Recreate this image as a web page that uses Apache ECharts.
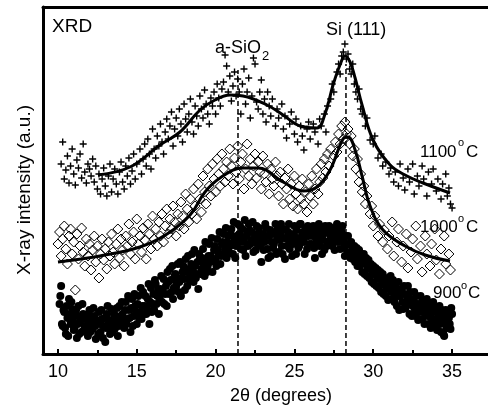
<!DOCTYPE html>
<html>
<head>
<meta charset="utf-8">
<script src="https://cdn.jsdelivr.net/npm/echarts@6.0.0/dist/echarts.min.js"></script>
<style>
  html, body { margin: 0; padding: 0; background: #fff; }
  #main { width: 488px; height: 412px; }
</style>
</head>
<body>
<div id="main"></div>
<script>
// 2theta (deg) vs intensity (a.u., arbitrary offset scale)
var majorTicks = [10, 15, 20, 25, 30, 35];
var minorTicks = [12.5, 17.5, 22.5, 27.5, 32.5];

// 1100 C raw points (crosses)
var data1100 = [
  [10.2,190],[10.3,212],[10.4,175],[10.5,184],[10.6,198],[10.7,171],[10.8,188],[10.9,205],[11.0,180],[11.1,169],
  [11.2,194],[11.3,186],[11.4,200],[11.5,176],[11.6,210],[11.7,182],[11.8,171],[11.9,190],[12.0,185],[12.1,178],
  [12.2,195],[12.3,172],[12.4,188],[12.5,165],[12.6,180],[12.7,160],[12.8,175],[12.9,186],[13.0,168],[13.1,158],
  [13.2,178],[13.3,190],[13.4,162],[13.5,175],[13.6,185],[13.7,170],[13.8,160],[13.9,182],[14.0,192],[14.1,172],
  [14.2,165],[14.3,188],[14.4,178],[14.5,196],[14.6,170],[14.7,183],[14.8,200],[14.9,175],[15.0,190],[15.2,205],
  [15.3,180],[15.4,195],[15.5,210],[15.6,188],[15.7,215],[15.8,200],[15.9,185],[16.0,225],[16.1,205],[16.2,196],
  [16.3,218],[16.4,208],[16.5,230],[16.6,212],[16.7,200],[16.8,222],[16.9,235],[17.0,215],[17.1,228],[17.2,242],
  [17.3,208],[17.4,225],[17.5,236],[17.6,218],[17.7,245],[17.8,230],[17.9,212],[18.0,250],[18.1,235],[18.2,222],
  [18.3,240],[18.4,255],[18.5,232],[18.6,220],[18.7,248],[18.8,238],[18.9,228],[19.0,258],[19.1,245],[19.2,236],
  [19.3,264],[19.4,250],[19.5,240],[19.6,230],[19.7,256],[19.8,248],[19.9,262],[20.0,240],[20.1,270],[20.2,256],
  [20.3,248],[20.4,265],[20.5,272],[20.6,299],[20.7,288],[20.8,262],[20.9,278],[21.0,253],[21.1,268],[21.2,282],
  [21.3,258],[21.4,275],[21.5,262],[21.6,240],[21.7,270],[21.8,285],[21.9,250],[22.0,262],[22.1,276],[22.2,236],
  [22.3,258],[22.4,296],[22.5,290],[22.6,252],[22.7,245],[22.8,262],[22.9,274],[23.0,240],[23.1,255],[23.2,232],
  [23.3,262],[23.4,248],[23.5,238],[23.6,255],[23.8,228],[23.9,245],[24.0,236],[24.2,250],[24.3,225],[24.4,238],
  [24.5,216],[24.7,230],[24.8,242],[25.0,220],[25.1,235],[25.2,212],[25.4,228],[25.5,218],[25.6,204],[25.8,225],
  [25.9,232],[26.0,215],[26.2,230],[26.3,222],[26.5,210],[26.6,235],[26.7,228],[26.9,240],[27.0,222],[27.1,248],
  [27.3,255],[27.4,270],[27.5,262],[27.7,282],[27.8,290],[27.9,280],[28.0,298],[28.1,302],[28.2,310],[28.3,295],
  [28.4,300],[28.5,285],[28.6,280],[28.7,290],[28.8,270],[28.9,262],[29.0,255],[29.1,265],[29.2,245],[29.3,240],
  [29.5,228],[29.6,236],[29.8,214],[30.0,210],[30.1,218],[30.3,196],[30.5,200],[30.6,188],[30.8,192],[31.0,180],
  [31.1,186],[31.3,172],[31.4,182],[31.6,168],[31.7,190],[31.9,176],[32.0,164],[32.2,185],[32.3,172],[32.5,190],
  [32.6,160],[32.8,178],[32.9,168],[33.1,188],[33.2,175],[33.4,158],[33.5,182],[33.7,170],[33.8,185],[34.0,163],
  [34.1,175],[34.3,155],[34.4,170],[34.6,180],[34.7,158],[34.8,166],[34.9,150],[35.0,146]
];

// 1000 C raw points (open diamonds)
var data1000 = [
  [10.0,110],[10.1,122],[10.2,98],[10.3,115],[10.4,128],[10.5,105],[10.6,90],[10.7,118],[10.8,125],[10.9,100],
  [11.0,112],[11.1,64],[11.2,120],[11.3,95],[11.4,108],[11.5,126],[11.6,102],[11.7,88],[11.8,115],[11.9,98],
  [12.0,110],[12.1,84],[12.2,104],[12.3,118],[12.4,92],[12.5,108],[12.6,76],[12.7,100],[12.8,115],[12.9,94],
  [13.0,105],[13.1,85],[13.2,112],[13.3,98],[13.4,120],[13.5,102],[13.6,90],[13.7,110],[13.8,125],[13.9,96],
  [14.0,115],[14.1,104],[14.2,88],[14.3,118],[14.4,108],[14.5,130],[14.6,100],[14.7,112],[14.8,122],[14.9,95],
  [15.0,135],[15.1,110],[15.2,118],[15.3,102],[15.4,126],[15.5,114],[15.6,95],[15.7,130],[15.8,120],[15.9,105],
  [16.0,138],[16.1,115],[16.2,125],[16.3,108],[16.4,132],[16.5,118],[16.6,140],[16.7,112],[16.8,128],[16.9,145],
  [17.0,120],[17.1,135],[17.2,125],[17.3,148],[17.4,132],[17.5,118],[17.6,140],[17.7,128],[17.8,152],[17.9,138],
  [18.0,125],[18.1,160],[18.2,145],[18.3,132],[18.4,155],[18.5,140],[18.6,165],[18.7,148],[18.8,135],[18.9,170],
  [19.0,155],[19.1,142],[19.2,178],[19.3,162],[19.4,150],[19.5,185],[19.6,168],[19.7,158],[19.8,190],[19.9,175],
  [20.0,162],[20.1,195],[20.2,180],[20.3,168],[20.4,200],[20.5,185],[20.6,172],[20.7,192],[20.8,178],[20.9,205],
  [21.0,188],[21.1,170],[21.2,196],[21.3,182],[21.4,208],[21.5,175],[21.6,192],[21.7,200],[21.8,165],[21.9,185],
  [22.0,210],[22.1,178],[22.2,195],[22.3,170],[22.4,188],[22.5,200],[22.6,176],[22.7,192],[22.8,182],[22.9,165],
  [23.0,198],[23.1,180],[23.2,172],[23.3,190],[23.4,160],[23.5,185],[23.6,175],[23.7,168],[23.8,192],[23.9,178],
  [24.0,158],[24.1,182],[24.2,170],[24.3,150],[24.4,176],[24.5,165],[24.6,185],[24.7,155],[24.8,170],[24.9,148],
  [25.0,178],[25.1,160],[25.2,145],[25.3,168],[25.4,155],[25.5,175],[25.6,150],[25.7,162],[25.8,142],[25.9,170],
  [26.0,158],[26.1,178],[26.2,150],[26.3,165],[26.4,185],[26.5,160],[26.6,172],[26.7,190],[26.8,176],[26.9,195],
  [27.0,182],[27.1,200],[27.2,188],[27.3,205],[27.5,198],[27.6,212],[27.7,202],[27.8,220],[27.9,210],[28.0,228],
  [28.1,215],[28.2,232],[28.3,220],[28.4,225],[28.5,210],[28.6,218],[28.7,198],[28.8,205],[28.9,185],[29.0,195],
  [29.1,172],[29.2,180],[29.3,162],[29.4,168],[29.5,150],[29.6,158],[29.8,140],[29.9,148],[30.0,128],[30.1,138],
  [30.3,118],[30.4,130],[30.6,112],[30.7,124],[30.9,105],[31.0,118],[31.2,132],[31.3,98],[31.5,112],[31.6,125],
  [31.8,92],[31.9,108],[32.1,120],[32.2,86],[32.4,102],[32.5,115],[32.7,128],[32.8,95],[33.0,108],[33.1,82],
  [33.3,118],[33.4,100],[33.6,88],[33.7,110],[33.9,125],[34.0,94],[34.2,80],[34.3,105],[34.5,118],[34.6,90],
  [34.8,100],[34.9,84]
];

// 900 C raw points (filled circles)
var data900 = [
  [10.1,50],[10.2,68],[10.3,28],[10.4,42],[10.5,20],[10.6,36],[10.7,55],[10.8,30],[10.9,45],[11.0,24],
  [11.1,38],[11.2,16],[11.3,48],[11.4,32],[11.5,22],[11.6,40],[11.7,28],[11.8,35],[11.9,18],[12.0,44],
  [12.1,30],[12.2,25],[12.3,38],[12.4,15],[12.5,32],[12.6,42],[12.7,22],[12.8,35],[12.9,28],[13.0,12],
  [13.1,40],[13.2,30],[13.3,20],[13.4,45],[13.5,33],[13.6,25],[13.7,38],[13.8,18],[13.9,48],[14.0,30],
  [14.1,40],[14.2,26],[14.3,52],[14.4,35],[14.5,44],[14.6,22],[14.7,55],[14.8,38],[14.9,48],[15.0,30],
  [15.1,58],[15.2,42],[15.3,35],[15.4,62],[15.5,48],[15.6,40],[15.7,55],[15.8,30],[15.9,66],[16.0,50],
  [16.1,44],[16.2,70],[16.3,58],[16.4,40],[16.5,65],[16.6,52],[16.7,75],[16.8,60],[16.9,48],[17.0,72],
  [17.1,85],[17.2,62],[17.3,55],[17.4,78],[17.5,68],[17.6,90],[17.7,72],[17.8,58],[17.9,82],[18.0,75],
  [18.1,95],[18.2,68],[18.3,85],[18.4,78],[18.5,100],[18.6,72],[18.7,88],[18.8,80],[18.9,65],[19.0,95],
  [19.1,85],[19.2,105],[19.3,78],[19.4,92],[19.5,88],[19.6,110],[19.7,98],[19.8,82],[19.9,104],[20.0,95],
  [20.1,115],[20.2,100],[20.3,90],[20.4,110],[20.5,120],[20.6,105],[20.7,96],[20.8,118],[20.9,108],[21.0,125],
  [21.1,100],[21.2,115],[21.3,108],[21.4,130],[21.5,120],[21.6,105],[21.7,125],[21.8,112],[21.9,98],[22.0,120],
  [22.1,130],[22.2,110],[22.3,122],[22.4,102],[22.5,118],[22.6,128],[22.7,108],[22.8,115],[22.9,92],[23.0,120],
  [23.1,112],[23.2,126],[23.3,105],[23.4,118],[23.5,98],[23.6,122],[23.7,110],[23.8,130],[23.9,115],[24.0,102],
  [24.1,120],[24.2,108],[24.3,125],[24.4,95],[24.5,115],[24.6,122],[24.7,105],[24.8,118],[24.9,110],[25.0,128],
  [25.1,100],[25.2,116],[25.3,108],[25.4,130],[25.5,120],[25.6,112],[25.7,125],[25.8,105],[25.9,118],[26.0,122],
  [26.1,110],[26.2,128],[26.3,96],[26.4,115],[26.5,120],[26.6,108],[26.7,126],[26.8,114],[26.9,104],[27.0,122],
  [27.1,112],[27.2,128],[27.3,118],[27.4,108],[27.5,124],[27.6,114],[27.7,130],[27.8,118],[27.9,105],[28.0,122],
  [28.1,112],[28.2,98],[28.3,110],[28.4,118],[28.5,102],[28.6,112],[28.7,95],[28.8,108],[28.9,100],[29.0,88],
  [29.1,104],[29.2,96],[29.3,82],[29.4,100],[29.5,90],[29.6,78],[29.7,94],[29.8,85],[29.9,72],[30.0,88],
  [30.1,80],[30.2,68],[30.3,84],[30.4,75],[30.5,62],[30.6,80],[30.7,70],[30.8,58],[30.9,74],[31.0,65],
  [31.1,78],[31.2,55],[31.3,68],[31.4,60],[31.5,48],[31.6,72],[31.7,58],[31.8,65],[31.9,45],[32.0,60],
  [32.1,52],[32.2,68],[32.3,40],[32.4,55],[32.5,48],[32.6,62],[32.7,38],[32.8,50],[32.9,42],[33.0,58],
  [33.1,35],[33.2,48],[33.3,40],[33.4,55],[33.5,30],[33.6,45],[33.7,36],[33.8,52],[33.9,28],[34.0,42],
  [34.1,34],[34.2,48],[34.3,22],[34.4,38],[34.5,18],[34.6,44],[34.7,28],[34.8,36],[34.9,25],[35.0,40],
  [10.15,58],[10.25,30],[10.35,44],[10.45,26],[10.55,48],[10.65,18],[10.75,40],[10.85,52],[10.95,34],[11.05,26],
  [11.15,44],[11.25,30],[11.35,20],[11.45,38],[11.55,50],[11.65,24],[11.75,36],[11.85,28],[11.95,40],[12.05,22],
  [12.15,36],[12.25,46],[12.35,28],[12.45,34],[12.55,20],[12.65,30],[12.75,44],[12.85,16],[12.95,36],[13.05,26],
  [13.15,48],[13.25,34],[13.35,28],[13.45,22],[13.55,40],[13.65,32],[13.75,46],[13.85,28],[13.95,36],[14.05,52],
  [14.15,32],[14.25,44],[14.35,30],[14.45,58],[14.55,36],[14.65,46],[14.75,28],[14.85,60],[14.95,42],[15.05,50],
  [15.15,36],[15.25,66],[15.35,48],[15.45,40],[15.55,58],[15.65,46],[15.75,70],[15.85,52],[15.95,42],[16.05,60],
  [16.15,74],[16.25,50],[16.35,64],[16.45,56],[16.55,78],[16.65,62],[16.75,50],[16.85,68],[16.95,82],[17.05,60],
  [17.15,74],[17.25,88],[17.35,66],[17.45,80],[17.55,72],[17.65,62],[17.75,92],[17.85,76],[17.95,88],[18.05,64],
  [18.15,82],[18.25,98],[18.35,74],[18.45,90],[18.55,84],[18.65,104],[18.75,76],[18.85,92],[18.95,100],[19.05,80],
  [19.15,96],[19.25,90],[19.35,112],[19.45,82],[19.55,98],[19.65,92],[19.75,116],[19.85,94],[19.95,108],[20.05,88],
  [20.15,104],[20.25,122],[20.35,98],[20.45,112],[20.55,100],[20.65,126],[20.75,112],[20.85,102],[20.95,120],[21.05,110],
  [21.15,132],[21.25,96],[21.35,118],[21.45,112],[21.55,128],[21.65,116],[21.75,104],[21.85,134],[21.95,118],[22.05,108],
  [22.15,124],[22.25,114],[22.35,132],[22.45,112],[22.55,104],[22.65,120],[22.75,126],[22.85,110],[22.95,118],[23.05,104],
  [23.15,130],[23.25,118],[23.35,96],[23.45,124],[23.55,112],[23.65,106],[23.75,120],[23.85,100],[23.95,126],[24.05,114],
  [24.15,130],[24.25,100],[24.35,116],[24.45,124],[24.55,108],[24.65,130],[24.75,112],[24.85,98],[24.95,120],[25.05,112],
  [25.15,124],[25.25,106],[25.35,130],[25.45,114],[25.55,122],[25.65,100],[25.75,118],[25.85,128],[25.95,110],[26.05,126],
  [26.15,118],[26.25,106],[26.35,124],[26.45,112],[26.55,130],[26.65,118],[26.75,100],[26.85,120],[26.95,128],[27.05,108],
  [27.15,122],[27.25,114],[27.35,126],[27.45,116],[27.55,104],[27.65,120],[27.75,112],[27.85,124],[27.95,114],[28.05,128],
  [28.15,106],[28.25,118],[28.35,100],[28.45,110],[28.55,96],[28.65,108],[28.75,102],[28.85,92],[28.95,106],[29.05,96],
  [29.15,88],[29.25,98],[29.35,92],[29.45,80],[29.55,96],[29.65,86],[29.75,76],[29.85,90],[29.95,80],[30.05,70],
  [30.15,86],[30.25,76],[30.35,66],[30.45,82],[30.55,70],[30.65,60],[30.75,76],[30.85,66],[30.95,54],[31.05,70],
  [31.15,62],[31.25,74],[31.35,52],[31.45,66],[31.55,58],[31.65,44],[31.75,62],[31.85,52],[31.95,68],[32.05,46],
  [32.15,58],[32.25,50],[32.35,62],[32.45,38],[32.55,54],[32.65,44],[32.75,58],[32.85,34],[32.95,50],[33.05,44],
  [33.15,54],[33.25,30],[33.35,46],[33.45,38],[33.55,50],[33.65,26],[33.75,42],[33.85,34],[33.95,46],[34.05,24],
  [34.15,38],[34.25,30],[34.35,44],[34.45,20],[34.55,34],[34.65,26],[34.75,40],[34.85,30],[34.95,46]
];

// fitted curves
var fit1100 = [
  [12.54,179],[14.57,187],[16.47,209],[17.74,222],[19.01,244],[19.96,254],[20.91,259],[21.74,258],
  [23.26,249],[24.28,239],[25.36,228],[26.43,226],[26.94,240],[27.45,269],[27.89,289],[28.21,298],
  [28.53,292],[28.85,276],[29.29,249],[29.99,214],[31.07,189],[32.14,178],[33.16,171],[34.87,161]
];
var fit1000 = [
  [10.0,92],[12.66,98],[15.20,107],[16.92,120],[18.38,139],[19.33,162],[20.28,176],[21.74,186],
  [22.69,186],[24.28,172],[25.55,163],[26.43,167],[27.26,184],[28.08,215],[28.40,217],[28.85,204],
  [29.29,178],[29.80,148],[30.62,124],[32.02,108],[33.29,99],[34.87,93]
];

// peak markers
var peakSiO2 = [[21.42, 0], [21.42, 284]];
var peakSi = [[28.27, 0], [28.27, 290]];

var font = 'Liberation Sans, Arial, Helvetica, sans-serif';
var plusSymbol = 'path://M4,0H6V4H10V6H6V10H4V6H0V4H4Z';
var xMin = 9.05;
var xMax = 37.28;

var chart = echarts.init(document.getElementById('main'));

function txt(str, x, y, size, align, rot) {
  return {
    type: 'text',
    x: x,
    y: y,
    rotation: rot || 0,
    style: {
      text: str,
      fill: '#000',
      font: size + 'px ' + font,
      textAlign: align || 'left',
      textVerticalAlign: 'middle'
    }
  };
}

var option = {
  animation: false,
  backgroundColor: '#fff',
  grid: {
    left: 43,
    top: 7,
    right: 0,
    bottom: 58
  },
  xAxis: [{
    type: 'value',
    min: xMin,
    max: xMax,
    axisLine: { show: true, lineStyle: { color: '#000', width: 3 } },
    axisTick: {
      show: true,
      inside: true,
      length: 5,
      customValues: majorTicks,
      lineStyle: { color: '#000', width: 2 }
    },
    axisLabel: {
      customValues: majorTicks,
      color: '#000',
      fontSize: 18,
      fontFamily: font,
      margin: 9
    },
    splitLine: { show: false }
  }, {
    type: 'value',
    position: 'bottom',
    min: xMin,
    max: xMax,
    axisLine: { show: false },
    axisTick: {
      show: true,
      inside: true,
      length: 4,
      customValues: minorTicks,
      lineStyle: { color: '#000', width: 2 }
    },
    axisLabel: { show: false },
    splitLine: { show: false }
  }, {
    // top frame line only
    type: 'value',
    position: 'top',
    min: xMin,
    max: xMax,
    axisLine: { show: true, lineStyle: { color: '#000', width: 3 } },
    axisTick: { show: false },
    axisLabel: { show: false },
    splitLine: { show: false }
  }],
  yAxis: {
    type: 'value',
    min: 0,
    max: 347,
    axisLine: { show: true, lineStyle: { color: '#000', width: 3 } },
    axisTick: { show: false },
    axisLabel: { show: false },
    splitLine: { show: false }
  },
  graphic: [
    txt('XRD', 52, 27, 19),
    txt('a-SiO', 215, 48, 18),
    txt('2', 262, 56, 13),
    txt('Si (111)', 326, 30, 18),
    txt('1100', 420, 152, 17),
    txt('o', 458, 143, 11),
    txt('C', 466, 152, 17),
    txt('1000', 420, 227, 17),
    txt('o', 458, 219, 11),
    txt('C', 466, 227, 17),
    txt('900', 433, 293, 17),
    txt('o', 461, 286, 11),
    txt('C', 468, 293, 17),
    txt('2\u03b8 (degrees)', 281, 396, 18, 'center'),
    txt('X-ray intensity (a.u.)', 25, 190, 19, 'center', Math.PI / 2)
  ],
  series: [
    {
      type: 'line',
      data: peakSiO2,
      symbol: 'none',
      z: 1,
      lineStyle: { color: '#000', width: 1.5, type: [5, 3] }
    },
    {
      type: 'line',
      data: peakSi,
      symbol: 'none',
      z: 1,
      lineStyle: { color: '#000', width: 1.5, type: [5, 3] }
    },
    {
      name: '900',
      type: 'scatter',
      data: data900,
      symbol: 'circle',
      symbolSize: 8,
      z: 2,
      itemStyle: { color: '#000', opacity: 1 }
    },
    {
      name: '1000',
      type: 'scatter',
      data: data1000,
      symbol: 'diamond',
      symbolSize: 10,
      z: 2,
      itemStyle: { color: 'rgba(0,0,0,0)', borderColor: '#000', borderWidth: 1, opacity: 1 }
    },
    {
      name: '1100',
      type: 'scatter',
      data: data1100,
      symbol: plusSymbol,
      symbolSize: 7,
      z: 2,
      itemStyle: { color: '#000', opacity: 1 }
    },
    {
      type: 'line',
      data: fit1000,
      symbol: 'none',
      smooth: 0.4,
      z: 3,
      lineStyle: { color: '#000', width: 3 }
    },
    {
      type: 'line',
      data: fit1100,
      symbol: 'none',
      smooth: 0.4,
      z: 3,
      lineStyle: { color: '#000', width: 3 }
    }
  ]
};

chart.setOption(option);
</script>
</body>
</html>
